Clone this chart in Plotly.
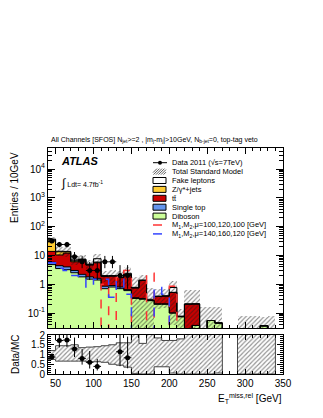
import numpy as np
import plotly.graph_objects as go

# 10 GeV bins from 40 to 350 GeV
bin_edges = list(range(40, 360, 10))

data_counts = [32, 24, 24, 9, 6, 3, 3, 6, 6, 2, 2, 0, 0, 0, 0, 0, 0, 0, 0, 0, 0, 0, 0, 0, 0, 0, 0, 0, 0, 0, 0]
data_err_up = [6.2, 5.4, 5.4, 4.1, 3.6, 2.9, 2.9, 3.6, 3.6, 2.6, 2.6, 0, 0, 0, 0, 0, 0, 0, 0, 0, 0, 0, 0, 0, 0, 0, 0, 0, 0, 0, 0]
data_err_dn = [5.6, 4.9, 4.9, 2.9, 2.4, 1.6, 1.6, 2.4, 2.4, 1.3, 1.3, 0, 0, 0, 0, 0, 0, 0, 0, 0, 0, 0, 0, 0, 0, 0, 0, 0, 0, 0, 0]

diboson = [4.8, 3.5, 3.2, 2.5, 1.8, 1.5, 1.4, 0.7, 0.8, 0.7, 0.6, 0.32, 0.30, 0.27, 0.20, 0.20, 0.10, 0.075,
           0.005, 0.037, 0.01, 0.055, 0.045, 0, 0, 0.004, 0.004, 0.004, 0.036, 0.004, 0]
single_top = [1.0, 0.9, 0.8, 0.5, 0.4, 0.3, 0.2, 0.15, 0.1, 0.1, 0.05, 0.02, 0.02, 0, 0.01, 0.01, 0, 0,
              0, 0, 0, 0, 0, 0, 0, 0, 0, 0, 0, 0, 0]
ttbar = [8.0, 6.0, 8.0, 3.0, 4.5, 2.8, 4.0, 1.0, 1.0, 0.9, 1.5, 0.4, 1.05, 0.01, 0.17, 0.18, 0.42, 0,
         0.2, 0.17, 0, 0, 0, 0, 0, 0, 0, 0, 0, 0, 0]
zjets = [21.0, 3.0, 1.3, 0.5, 0.5, 0.2, 0.3, 0.05, 0.05, 0.03, 0.1, 0.01, 0, 0, 0, 0, 0, 0,
         0, 0, 0, 0, 0, 0, 0, 0, 0, 0, 0, 0, 0]
fakes = [2.0, 0.6, 0.5, 0.5, 0.3, 0.2, 1.8, 0.1, 0.05, 0.02, 0.15, 0.03, 0, 0.02, 0, 0, 0.25, 0.003,
         0, 0, 0, 0, 0, 0, 0, 0, 0, 0, 0, 0, 0]

# relative uncertainty band on total SM (lower / upper)
sm_rel_lo = [0.75, 0.66, 0.66, 0.66, 0.66, 0.63, 0.63, 0.6, 0.5, 0.45, 0.35, 0.03, 0, 0, 0.37, 0.37, 0.05, 0,
             0, 0, 0, 0, 0.05, 0, 0, 0, 0, 0, 0, 0, 0]
sm_rel_hi = [1.2, 1.45, 1.45, 1.5, 1.35, 1.38, 1.4, 1.45, 1.5, 1.6, 1.6, 2.2, 1.57, 2.5, 1.85, 1.72, 1.72, 1.8,
             3.0, 3.0, 16.0, 3.0, 3.5, 0, 0, 20.0, 20.0, 20.0, 2.1, 20.0, 0]

signal_a = [0, 0, 0, 0, 0, 0, 0, 1.0, 0, 1.7, 3.0, 0, 0, 2.4, 0, 0, 0.85, 0,
            0, 0, 0, 0, 0, 0, 0, 0, 0, 0, 0, 0, 0]
signal_b = [5.6, 3.6, 3.0, 2.0, 1.6, 0.8, 1.5, 1.5, 0.35, 1.5, 0.45, 0, 0, 0, 0.77, 0.45, 0, 0,
            0, 0, 0, 0, 0, 0, 0, 0, 0, 0, 0, 0, 0]

y_tickvals = [0.1, 1, 10, 100, 1000, 10000]
y_ticktext = ['10<sup>-1</sup>', '1', '10', '10<sup>2</sup>', '10<sup>3</sup>', '10<sup>4</sup>']

FONT = 'Liberation Sans'
col_dib = '#ccff99'
col_top = '#6495ed'
col_tt = '#cc0000'
col_z = '#ffcc33'
col_fake = '#ffffff'
col_sig_a = '#ff3333'
col_sig_b = '#3344ff'

edges = np.array(bin_edges, dtype=float)
centers = 0.5 * (edges[:-1] + edges[1:])
cum_dib = np.array(diboson)
cum_top = cum_dib + np.array(single_top)
cum_tt = cum_top + np.array(ttbar)
cum_z = cum_tt + np.array(zjets)
total = cum_z + np.array(fakes)
band_lo = total * np.array(sm_rel_lo)
band_hi = total * np.array(sm_rel_hi)
dat = np.array(data_counts, dtype=float)


def step_y(vals, floor=1e-4):
    v = np.array(vals, dtype=float)
    v = np.where(v > 0, v, floor)
    return np.append(v, v[-1])


hatch = dict(shape='/', fgcolor='#1a1a1a', bgcolor='rgba(0,0,0,0)', size=3.2, solidity=0.35, fillmode='overlay')

traces = []

# stacked backgrounds drawn as overlaid cumulative bars (largest first)
for cum, col in [(total, col_fake), (cum_z, col_z), (cum_tt, col_tt), (cum_top, col_top), (cum_dib, col_dib)]:
    traces.append(go.Bar(x=centers, y=cum, width=10, marker=dict(color=col, line=dict(width=0)),
                         showlegend=False, hoverinfo='skip', xaxis='x', yaxis='y'))
for cum in [cum_dib, cum_top, cum_tt, cum_z, total]:
    traces.append(go.Scatter(x=edges, y=step_y(cum), mode='lines', line=dict(color='black', width=1, shape='hv'),
                             showlegend=False, hoverinfo='skip', xaxis='x', yaxis='y'))

# SM uncertainty hatch
traces.append(go.Bar(x=centers, base=band_lo, y=band_hi - band_lo, width=10,
                     marker=dict(color='rgba(0,0,0,0)', line=dict(width=0), pattern=hatch),
                     showlegend=False, hoverinfo='skip', xaxis='x', yaxis='y'))

# signal lines
traces.append(go.Scatter(x=edges, y=step_y(signal_a), mode='lines',
                         line=dict(color=col_sig_a, width=1.5, dash='dash', shape='hv'),
                         showlegend=False, xaxis='x', yaxis='y'))
traces.append(go.Scatter(x=edges, y=step_y(signal_b), mode='lines',
                         line=dict(color=col_sig_b, width=1.5, dash='dash', shape='hv'),
                         showlegend=False, xaxis='x', yaxis='y'))

# data
m = dat > 0
traces.append(go.Scatter(x=centers[m], y=dat[m], mode='markers',
                         marker=dict(color='black', size=5),
                         error_y=dict(type='data', array=np.array(data_err_up)[m], arrayminus=np.array(data_err_dn)[m],
                                      color='black', thickness=1, width=0),
                         error_x=dict(type='constant', value=5, color='black', thickness=1, width=0),
                         showlegend=False, xaxis='x', yaxis='y'))

# ratio panel
with np.errstate(divide='ignore', invalid='ignore'):
    rlo = np.where(total > 0, np.array(sm_rel_lo), np.nan)
    rhi = np.where(total > 0, np.minimum(np.array(sm_rel_hi), 2.5), np.nan)
    ratio = np.where(total > 0, dat / total, np.nan)
    r_up = np.array(data_err_up) / total
    r_dn = np.array(data_err_dn) / total

traces.append(go.Bar(x=centers, base=rlo, y=rhi - rlo, width=10,
                     marker=dict(color='rgba(0,0,0,0)', line=dict(width=0), pattern=hatch),
                     showlegend=False, hoverinfo='skip', xaxis='x2', yaxis='y2'))
for arr in [rlo, rhi]:
    yv = np.nan_to_num(arr, nan=-1)
    traces.append(go.Scatter(x=edges, y=np.append(yv, yv[-1]),
                             mode='lines', line=dict(color='#444444', width=1, shape='hv'),
                             showlegend=False, hoverinfo='skip', xaxis='x2', yaxis='y2'))

mr = (dat > 0) & (ratio <= 2)
traces.append(go.Scatter(x=centers[mr], y=ratio[mr], mode='markers',
                         marker=dict(color='black', size=5),
                         error_y=dict(type='data', array=r_up[mr], arrayminus=r_dn[mr],
                                      color='black', thickness=1, width=0),
                         error_x=dict(type='constant', value=5, color='black', thickness=1, width=0),
                         showlegend=False, xaxis='x2', yaxis='y2'))

fig = go.Figure(traces)

# page pixel -> paper fraction (plot area spans x 48..283, y 148..374 on the page)
def py(p):
    return (374 - p) / 226.0


def px(p):
    return (p - 48) / 235.0


ax_common = dict(showline=True, linecolor='black', linewidth=1, mirror='allticks', ticks='inside',
                 zeroline=False, showgrid=False, tickcolor='black')

# the page body keeps an 8px margin, so the figure is 8px smaller and margins shifted
fig.update_layout(
    width=315, height=410,
    margin=dict(l=40, r=40, t=140, b=44),
    paper_bgcolor='white', plot_bgcolor='white',
    barmode='overlay', bargap=0,
    font=dict(family=FONT, size=10, color='black'),
    showlegend=False,
    xaxis=dict(domain=[0, 1], anchor='y', range=[40, 350], dtick=50, ticklen=6, showticklabels=False,
               minor=dict(ticks='inside', dtick=10, ticklen=3, tickcolor='black'), **ax_common),
    yaxis=dict(domain=[py(328), 1], anchor='x', type='log', range=[-1.52, 4.73],
               tickvals=y_tickvals, ticktext=y_ticktext, ticklen=7,
               minor=dict(ticks='inside', dtick='D1', ticklen=4, tickcolor='black'), **ax_common),
    xaxis2=dict(domain=[0, 1], anchor='y2', range=[40, 350], dtick=50, ticklen=5, matches='x',
                minor=dict(ticks='inside', dtick=10, ticklen=3, tickcolor='black'), **ax_common),
    yaxis2=dict(domain=[0, py(335)], anchor='x2', range=[0, 2], dtick=0.5, ticklen=6,
                minor=dict(ticks='inside', dtick=0.1, ticklen=3, tickcolor='black'), **ax_common),
)

ann = [
    dict(x=px(154), y=py(140), xanchor='center',
         text='All Channels [SFOS] N<sub>jet</sub>>=2 , |m<sub>j</sub>-m<sub>j</sub>|>10GeV, N<sub>b-jet</sub>=0, top-tag veto',
         font=dict(size=7)),
    dict(x=px(59), y=py(161), text='<b><i>ATLAS</i></b>', xanchor='left', font=dict(size=11)),
    dict(x=px(59), y=py(183), text='<span style="font-size:12px">∫</span> Ldt= 4.7fb<sup>-1</sup>', xanchor='left',
         font=dict(size=7)),
    dict(x=px(14), y=py(188), text='Entries / 10GeV', textangle=-90, xanchor='center', font=dict(size=10)),
    dict(x=px(15), y=py(355), text='Data/MC', textangle=-90, xanchor='center', font=dict(size=10)),
    dict(x=px(284), y=py(398), text='E<sub>T</sub><sup>miss,rel</sup> [GeV]', xanchor='right', font=dict(size=10)),
]

legend_labels = ['Data 2011 (√s=7TeV)', 'Total Standard Model', 'Fake leptons', 'Z/γ*+jets', 'tt̄',
                 'Single top', 'Diboson', 'M<sub>1</sub>,M<sub>2</sub>,μ=100,120,100 [GeV]',
                 'M<sub>1</sub>,M<sub>2</sub>,μ=140,160,120 [GeV]']
row_y = [162.7 + 8.9 * i for i in range(len(legend_labels))]
shapes = []
bx0, bx1 = 153, 166
for lab, yy in zip(legend_labels, row_y):
    ann.append(dict(x=px(170), y=py(yy), text=lab, xanchor='left', font=dict(size=7.5)))

paper = dict(xref='paper', yref='paper')
# data entry
shapes.append(dict(type='line', x0=px(bx0), x1=px(bx1 + 1), y0=py(row_y[0]), y1=py(row_y[0]),
                   line=dict(color='black', width=1), **paper))
shapes.append(dict(type='circle', x0=px(158), x1=px(162), y0=py(row_y[0] + 2), y1=py(row_y[0] - 2),
                   fillcolor='black', line=dict(width=0), **paper))
# hatched entry
yy = row_y[1]
for i in range(6):
    xa = bx0 + 2.5 * i - 2
    xs, xe = max(xa, bx0), min(xa + 6, bx1)
    shapes.append(dict(type='line', x0=px(xs), y0=py(yy + 3 - (xs - xa)), x1=px(xe), y1=py(yy + 3 - (xe - xa)),
                       line=dict(color='#333333', width=0.8), **paper))
# filled boxes
for yy, col in zip(row_y[2:7], [col_fake, col_z, col_tt, col_top, col_dib]):
    shapes.append(dict(type='rect', x0=px(bx0), x1=px(bx1), y0=py(yy + 3), y1=py(yy - 3),
                       fillcolor=col, line=dict(color='black', width=1), **paper))
for yy, col in zip(row_y[7:], [col_sig_a, col_sig_b]):
    shapes.append(dict(type='line', x0=px(bx0), x1=px(bx1), y0=py(yy), y1=py(yy),
                       line=dict(color=col, width=1.5, dash='dash'), **paper))

for a in ann:
    a.setdefault('xref', 'paper')
    a.setdefault('yref', 'paper')
    a.setdefault('yanchor', 'middle')
    a.setdefault('showarrow', False)
fig.update_layout(annotations=ann, shapes=shapes)

fig.write_html('out.html')
